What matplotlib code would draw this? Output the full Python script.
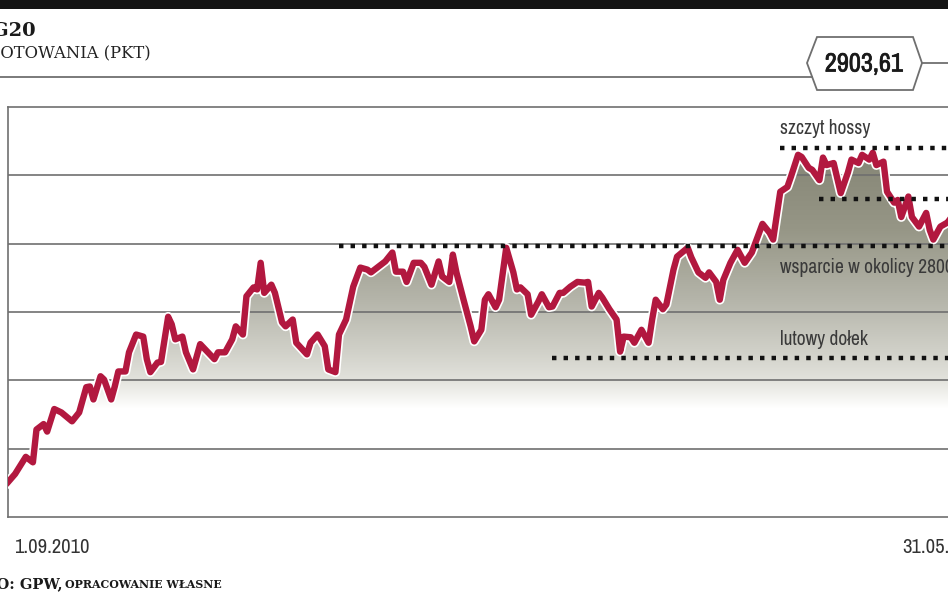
import numpy as np
import matplotlib.pyplot as plt
import matplotlib.patheffects as pe
from matplotlib.colors import LinearSegmentedColormap
from matplotlib.patches import Polygon, Rectangle
from matplotlib.lines import Line2D
from matplotlib import font_manager

# WIG20, daily close (days counted from 1.09.2010)
days = [0, 2, 5, 7, 8, 10, 11, 13, 15, 18, 20, 22, 23, 24, 26, 27, 29, 30, 31, 33,
        34, 36, 38, 39, 40, 42, 43, 45, 46, 47, 49, 50, 52, 54, 56, 58, 59, 61, 63, 64,
        66, 67, 69, 70, 71, 72, 74, 75, 77, 78, 80, 81, 84, 85, 87, 89, 90, 92, 93, 95,
        97, 99, 101, 102, 104, 106, 108, 109, 111, 112, 114, 116, 117, 119, 121, 122, 124, 125, 126, 128,
        130, 131, 133, 134, 135, 137, 138, 140, 142, 143, 144, 146, 147, 149, 150, 152, 153, 155, 156, 158,
        160, 162, 163, 164, 166, 167, 169, 171, 172, 173, 175, 176, 178, 180, 181, 182, 184, 185, 187, 188,
        191, 192, 194, 196, 197, 199, 200, 201, 203, 205, 207, 209, 210, 212, 214, 215, 217, 219, 220, 222,
        223, 225, 226, 228, 229, 230, 232, 234, 236, 237, 239, 240, 242, 243, 244, 246, 247, 249, 250, 251,
        253, 254, 256, 258, 259, 260, 262, 264, 266, 268, 270, 272]
values = [2451, 2463, 2488, 2480, 2528, 2536, 2525, 2558, 2553, 2540, 2553, 2590, 2591, 2572, 2606, 2601, 2572, 2591, 2613, 2613,
          2641, 2667, 2664, 2631, 2612, 2626, 2627, 2693, 2682, 2660, 2664, 2641, 2616, 2653, 2642, 2631, 2641, 2641, 2660, 2679,
          2667, 2723, 2736, 2733, 2772, 2728, 2740, 2728, 2685, 2679, 2689, 2655, 2638, 2655, 2667, 2650, 2616, 2612, 2667, 2689,
          2737, 2765, 2762, 2758, 2766, 2774, 2787, 2759, 2759, 2744, 2772, 2772, 2766, 2740, 2774, 2752, 2744, 2784, 2758, 2718,
          2679, 2657, 2674, 2718, 2726, 2707, 2718, 2794, 2758, 2733, 2736, 2726, 2696, 2715, 2726, 2707, 2708, 2728, 2728, 2737,
          2744, 2743, 2744, 2708, 2728, 2721, 2704, 2689, 2642, 2664, 2663, 2655, 2674, 2655, 2689, 2718, 2704, 2711, 2762, 2781,
          2794, 2780, 2758, 2750, 2758, 2744, 2718, 2747, 2772, 2791, 2772, 2787, 2801, 2829, 2816, 2806, 2876, 2883, 2898, 2930,
          2927, 2911, 2908, 2893, 2926, 2915, 2918, 2874, 2904, 2923, 2918, 2930, 2923, 2933, 2915, 2920, 2876, 2860, 2864, 2839,
          2869, 2839, 2825, 2845, 2820, 2806, 2825, 2831, 2845, 2870, 2885, 2903.61]

last_value = "2903,61"
end_day = 272
start_label, end_label = "1.09.2010", "31.05.2011"

# dotted reference levels
level_values = [2940, 2866, 2797, 2632]
level_starts = [217, 228, 93, 153]
notes = ["szczyt hossy", "wsparcie w okolicy 2800", "lutowy dołek"]
note_y = [2969, 2765, 2660]
note_x = 217
fill_base = 2558

W, H = 948, 593
names = sorted({f.name for f in font_manager.fontManager.ttflist})
narrow_list = [n for n in names if "Narrow" in n or "Condensed" in n]
if narrow_list:
    narrow = narrow_list[0]
elif "Roboto" in names:
    narrow = "Roboto"
else:
    narrow = "DejaVu Sans"
serif = "DejaVu Serif"


def fx(px):
    return px / W


def fy(py):
    return 1 - py / H


fig = plt.figure(figsize=(W / 100, H / 100), dpi=100)
fig.patch.set_facecolor("white")

# header
fig.add_artist(Rectangle((0, fy(9)), 1, 9 / H, transform=fig.transFigure, color="#141414", lw=0))
fig.text(fx(36), fy(36), "WIG20", ha="right", va="baseline", family=serif,
         fontsize=14, fontweight="bold", color="#1a1a1a")
fig.text(fx(151), fy(58), "NOTOWANIA (PKT)", ha="right", va="baseline", family=serif,
         fontsize=11.8, color="#222222")
fig.add_artist(Line2D([0, fx(812)], [fy(77), fy(77)], transform=fig.transFigure, color="#6f6f6f", lw=1.3))
fig.add_artist(Line2D([fx(922), 1], [fy(63), fy(63)], transform=fig.transFigure, color="#6f6f6f", lw=1.3))
hexagon = Polygon([(fx(807), fy(63)), (fx(817), fy(37)), (fx(913), fy(37)), (fx(922), fy(63)),
                   (fx(913), fy(90)), (fx(817), fy(90))], closed=True, transform=fig.transFigure,
                  facecolor="white", edgecolor="#6f6f6f", lw=1.3)
fig.add_artist(hexagon)
fig.text(fx(864), fy(64), last_value, ha="center", va="center", family=narrow,
         fontsize=19, fontweight="bold", color="#1a1a1a",
         path_effects=[pe.withStroke(linewidth=0.5, foreground="#1a1a1a")])

# chart
ax = fig.add_axes([fx(8), fy(517), (976 - 8) / W, 410 / H])
ax.set_xlim(0, end_day)
ax.set_ylim(2400, 3000)
ax.set_yticks([2500, 2600, 2700, 2800, 2900])
ax.set_xticks([])
ax.tick_params(length=0, labelleft=False)
ax.yaxis.grid(True, color="#6f6f6f", lw=1.2)
for side in ["left", "top", "bottom"]:
    ax.spines[side].set_color("#6f6f6f")
    ax.spines[side].set_linewidth(1.2)
ax.spines["right"].set_visible(False)

# gradient area under the line
area = ax.fill_between(days, values, fill_base, facecolor="none", lw=0)
cmap = LinearSegmentedColormap.from_list("area", [(0, "#ffffff"), (0.11, "#e2e2dc"), (0.22, "#d0d0c8"),
                                                  (0.41, "#b5b5aa"), (0.68, "#969686"), (1, "#848474")])
grad = np.linspace(0, 1, 256).reshape(-1, 1)
img = ax.imshow(grad, extent=[0, end_day, fill_base, 2945], origin="lower", aspect="auto",
                cmap=cmap, zorder=1, interpolation="bilinear")
img.set_clip_path(area.get_paths()[0], transform=ax.transData)
ax.set_xlim(0, end_day)
ax.set_ylim(2400, 3000)

ax.plot(days, values, color="#b2183f", lw=4.6, zorder=3, solid_joinstyle="round",
        path_effects=[pe.Stroke(linewidth=7.0, foreground="white"), pe.Normal()])

dots = ax.hlines(level_values, level_starts, end_day + 10, colors="#111111", lw=3.2,
                 linestyles=[(0, (1.0, 1.6))], zorder=4)
dots.set_capstyle("butt")

for txt, yv in zip(notes, note_y):
    ax.text(note_x, yv, txt, ha="left", va="center", family=narrow, fontsize=14, color="#3a3a3a", zorder=5)

ax.annotate(start_label, xy=(0, 0), xycoords=("data", "axes fraction"), xytext=(4.5, -22),
            textcoords="offset points", ha="left", va="center", family=narrow, fontsize=14.8, color="#333333")
ax.annotate(end_label, xy=(end_day, 0), xycoords=("data", "axes fraction"), xytext=(8, -22),
            textcoords="offset points", ha="right", va="center", family=narrow, fontsize=14.8, color="#333333")

# source line
fig.text(fx(62), fy(588), "ŹRÓDŁO: GPW,", ha="right", va="baseline", family=serif,
         fontsize=10.5, fontweight="bold", color="#1a1a1a")
fig.text(fx(65), fy(588), "OPRACOWANIE WŁASNE", ha="left", va="baseline", family=serif,
         fontsize=7.9, fontweight="bold", color="#1a1a1a")

fig.savefig("out.png", dpi=100)
